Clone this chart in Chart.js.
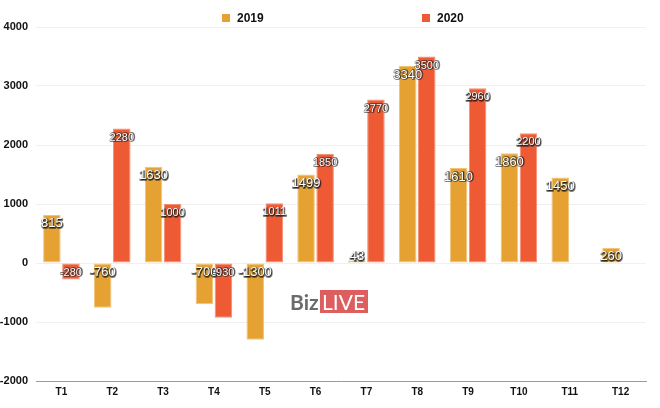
<!DOCTYPE html>
<html>
<head>
<meta charset="utf-8">
<script src="https://cdn.jsdelivr.net/npm/chart.js@4/dist/chart.umd.min.js"></script>
<style>
  html, body { margin: 0; padding: 0; background: #fff; }
  #wrap { width: 660px; height: 408px; }
</style>
</head>
<body>
<div id="wrap"><canvas id="growthChart"></canvas></div>
<script>
const months = ["T1", "T2", "T3", "T4", "T5", "T6", "T7", "T8", "T9", "T10", "T11", "T12"];
const values2019 = [815, -760, 1630, -700, -1300, 1499, 43, 3340, 1610, 1860, 1450, 260];
const values2020 = [-280, 2280, 1000, -930, 1011, 1850, 2770, 3500, 2960, 2200, null, null];
const yTicks = [-2000, -1000, 0, 1000, 2000, 3000, 4000];

const FONT = "'Liberation Sans', Arial, Helvetica, sans-serif";

// white value labels with a dark outline, near the upper edge of each bar
const barLabels = {
  id: "barLabels",
  afterDatasetsDraw(chart) {
    const ctx = chart.ctx;
    chart.data.datasets.forEach((ds, di) => {
      const meta = chart.getDatasetMeta(di);
      meta.data.forEach((bar, i) => {
        const v = ds.data[i];
        if (v === null || v === undefined) return;
        let y;
        if (v >= 0) y = Math.min(bar.y + 9, bar.base - 6);
        else y = bar.base + 9;
        ctx.save();
        ctx.font = (di === 0 ? "13px " : "11px ") + FONT;
        ctx.textAlign = "center";
        ctx.textBaseline = "middle";
        ctx.lineJoin = "round";
        ctx.lineWidth = 2;
        ctx.strokeStyle = "rgba(40,40,40,0.55)";
        ctx.strokeText(String(v), bar.x + 0.5, y + 0.5);
        ctx.shadowColor = "rgba(0,0,0,0.8)";
        ctx.shadowBlur = 1;
        ctx.shadowOffsetX = 0.6;
        ctx.shadowOffsetY = 0.6;
        ctx.fillStyle = "#fff";
        ctx.fillText(String(v), bar.x, y);
        ctx.restore();
      });
    });
  }
};

// legend spread wide across the top, like the original
const wideLegend = {
  id: "wideLegend",
  afterDraw(chart) {
    const ctx = chart.ctx;
    const starts = [222, 422];
    chart.data.datasets.forEach((ds, di) => {
      const x = starts[di];
      ctx.save();
      ctx.fillStyle = ds.backgroundColor;
      ctx.fillRect(x, 14, 8, 8);
      ctx.fillStyle = "#111";
      ctx.font = "bold 12px " + FONT;
      ctx.textBaseline = "middle";
      ctx.fillText(ds.label, x + 15, 18.5);
      ctx.restore();
    });
  }
};

// site watermark
const watermark = {
  id: "watermark",
  afterDraw(chart) {
    const ctx = chart.ctx;
    ctx.save();
    ctx.font = "bold 21px Lato, 'Open Sans', sans-serif";
    ctx.fillStyle = "#6b6b6b";
    ctx.textBaseline = "alphabetic";
    ctx.fillText("Biz", 290, 310);
    ctx.fillStyle = "#dc5e5e";
    ctx.fillRect(320, 290, 48, 23);
    ctx.fillStyle = "#fff";
    ctx.font = "21px Lato, 'Open Sans', sans-serif";
    ctx.fillText("LIVE", 322, 310);
    ctx.restore();
  }
};

new Chart(document.getElementById("growthChart"), {
  type: "bar",
  data: {
    labels: months,
    datasets: [
      {
        label: "2019",
        data: values2019,
        backgroundColor: "#e5a232",
        borderColor: "#f0c478",
        borderWidth: 1,
        borderSkipped: false,
        categoryPercentage: 0.75,
        barPercentage: 0.92
      },
      {
        label: "2020",
        data: values2020,
        backgroundColor: "#ee5a33",
        borderColor: "#f48f72",
        borderWidth: 1,
        borderSkipped: false,
        categoryPercentage: 0.75,
        barPercentage: 0.92
      }
    ]
  },
  options: {
    responsive: true,
    maintainAspectRatio: false,
    animation: false,
    layout: { padding: { top: 27, right: 14, bottom: 5, left: 0 } },
    plugins: {
      legend: { display: false },
      tooltip: { enabled: false }
    },
    scales: {
      x: {
        grid: { display: false, drawTicks: false },
        border: { display: true, color: "#9a9a9a", width: 1 },
        ticks: { color: "#111", padding: 5, font: { family: FONT, size: 10, weight: "bold" } }
      },
      y: {
        min: -2000,
        max: 4000,
        afterBuildTicks: (axis) => { axis.ticks = yTicks.map(v => ({ value: v })); },
        afterFit: (axis) => { axis.width = 36; },
        grid: { color: "#f0f0f0", drawTicks: false },
        border: { display: false },
        ticks: {
          color: "#111",
          padding: 8,
          font: { family: FONT, size: 11, weight: "bold" },
          callback: (v) => String(v)
        }
      }
    }
  },
  plugins: [barLabels, wideLegend, watermark]
});
</script>
</body>
</html>
